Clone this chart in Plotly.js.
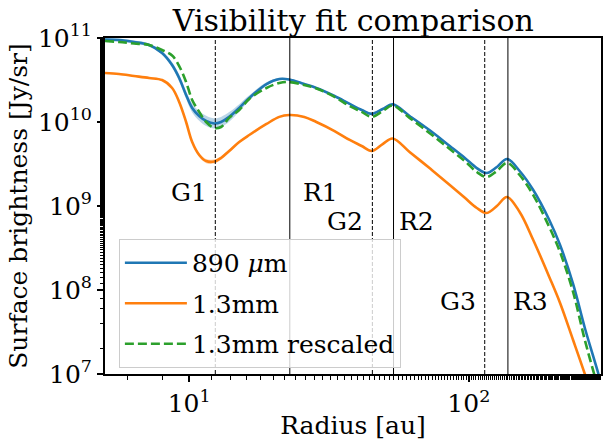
<!DOCTYPE html>
<html><head><meta charset="utf-8">
<script src="https://cdn.plot.ly/plotly-3.0.1.min.js"></script>
<style>html,body{margin:0;padding:0;background:#fff}</style>
</head><body><div id="chart" style="width:603px;height:440px"></div>
<script>
// Radius grid [au]
const radius = [5.00, 5.61, 6.35, 7.19, 8.00, 8.69, 9.21, 9.75, 10.25, 10.86, 11.5, 12.3, 13.0, 13.9, 15.1, 16.4, 18.9, 21.0, 22.8, 25.8, 28.5, 33.1, 37.5, 41.4, 44.9, 49.2, 53.4, 61.4, 73.1, 85.5, 96.8, 106.8, 116, 126, 137, 152, 170, 194, 212, 236, 260, 288, 307];
// 890 micron profile [Jy/sr]
const sb890 = [9.60e10, 9.47e10, 8.96e10, 8.26e10, 6.63e10, 4.77e10, 3.34e10, 2.10e10, 1.47e10, 1.18e10, 1.03e10, 9.60e9, 1.00e10, 1.15e10, 1.47e10, 1.93e10, 2.83e10, 3.25e10, 3.21e10, 2.83e10, 2.54e10, 2.04e10, 1.64e10, 1.39e10, 1.25e10, 1.43e10, 1.62e10, 1.18e10, 7.81e9, 5.18e9, 3.73e9, 2.83e9, 2.47e9, 2.91e9, 3.63e9, 2.61e9, 1.55e9, 6.81e8, 3.43e8, 1.18e8, 3.53e7, 1.12e7, 5.18e6];
const sb890Err = [0.04, 0.04, 0.04, 0.04, 0.05, 0.08, 0.10, 0.11, 0.13, 0.14, 0.15, 0.15, 0.15, 0.14, 0.11, 0.08, 0.05, 0.03, 0.03, 0.03, 0.03, 0.03, 0.03, 0.03, 0.03, 0.03, 0.03, 0.03, 0.03, 0.03, 0.03, 0.03, 0.03, 0.03, 0.03, 0.03, 0.03, 0.03, 0.03, 0.03, 0.03, 0.03, 0.03];
// 1.3 mm profile [Jy/sr]
const sb13 = [3.83e10, 3.73e10, 3.53e10, 3.34e10, 3.16e10, 2.54e10, 1.73e10, 1.00e10, 5.78e9, 4.05e9, 3.43e9, 3.39e9, 3.73e9, 4.52e9, 5.78e9, 7.00e9, 9.47e9, 1.15e10, 1.21e10, 1.15e10, 1.00e10, 7.81e9, 6.11e9, 5.18e9, 4.52e9, 5.47e9, 6.37e9, 4.40e9, 2.75e9, 1.78e9, 1.25e9, 9.47e8, 8.26e8, 1.00e9, 1.28e9, 8.48e8, 3.94e8, 1.43e8, 7.00e7, 2.54e7, 1.00e7, 3.53e6, 1.64e6];
const sb13Err = [0.02, 0.02, 0.02, 0.02, 0.02, 0.02, 0.02, 0.03, 0.04, 0.05, 0.06, 0.06, 0.05, 0.04, 0.03, 0.02, 0.02, 0.02, 0.02, 0.02, 0.02, 0.02, 0.02, 0.02, 0.02, 0.02, 0.02, 0.02, 0.02, 0.02, 0.02, 0.02, 0.02, 0.02, 0.02, 0.02, 0.02, 0.02, 0.02, 0.02, 0.02, 0.02, 0.02];
// 1.3 mm rescaled profile [Jy/sr]
const sb13Rescaled = [9.21e10, 8.96e10, 8.60e10, 8.26e10, 7.20e10, 6.19e10, 4.64e10, 2.99e10, 1.83e10, 1.32e10, 1.00e10, 8.48e9, 8.72e9, 1.12e10, 1.39e10, 1.88e10, 2.54e10, 2.91e10, 2.99e10, 2.75e10, 2.51e10, 1.99e10, 1.55e10, 1.32e10, 1.15e10, 1.35e10, 1.57e10, 1.12e10, 7.20e9, 4.77e9, 3.43e9, 2.54e9, 2.21e9, 2.61e9, 3.25e9, 2.34e9, 1.35e9, 5.62e8, 2.83e8, 9.47e7, 2.54e7, 7.40e6, 3.53e6];

const seriesNames = ['890 <i>μ</i>m', '1.3mm', '1.3mm rescaled'];
const gapRadii = [12.4, 45.2, 114];
const ringRadii = [22.9, 53.8, 138];
const gapLabels = ['G1', 'G2', 'G3'];
const ringLabels = ['R1', 'R2', 'R3'];
const gapLabelX = [11.8, 42.4, 107.6];
const ringLabelX = [25.2, 55.2, 141.5];
const labelY = [1.44e9, 6.5e8, 7.26e7];
const xTickVals = [10, 100];
const xTickText = ['10<sup>1</sup>', '10<sup>2</sup>'];
const yTickVals = [1e7, 1e8, 1e9, 1e10, 1e11];
const yTickText = ['10<sup>7</sup>', '10<sup>8</sup>', '10<sup>9</sup>', '10<sup>10</sup>', '10<sup>11</sup>'];
const xRange = [5, 297];
const yRange = [1e7, 1e11];

const FONT = 'DejaVu Serif, serif';
const BLUE = '#1f77b4', ORANGE = '#ff7f0e', GREEN = '#2ca02c';

function bandTraces(vals, errs, fillColor) {
  const hi = vals.map((v, i) => v * (1 + errs[i]));
  const lo = vals.map((v, i) => v / (1 + errs[i]));
  return [
    {x: radius, y: lo, type: 'scatter', mode: 'lines', line: {width: 0, shape: 'spline'}, showlegend: false, hoverinfo: 'skip'},
    {x: radius, y: hi, type: 'scatter', mode: 'lines', line: {width: 0, shape: 'spline'}, fill: 'tonexty', fillcolor: fillColor, showlegend: false, hoverinfo: 'skip'}
  ];
}

const traces = [
  ...bandTraces(sb890, sb890Err, 'rgba(31,119,180,0.3)'),
  {x: radius, y: sb890, type: 'scatter', mode: 'lines', name: seriesNames[0], legendgroup: 'a',
   line: {color: BLUE, width: 2.6, shape: 'spline'}},
  ...bandTraces(sb13, sb13Err, 'rgba(255,127,14,0.3)'),
  {x: radius, y: sb13, type: 'scatter', mode: 'lines', name: seriesNames[1], legendgroup: 'b',
   line: {color: ORANGE, width: 2.6, shape: 'spline'}},
  {x: radius, y: sb13Rescaled, type: 'scatter', mode: 'lines', name: seriesNames[2], legendgroup: 'c',
   line: {color: GREEN, width: 2.6, dash: '9px,4px', shape: 'spline'}}
];

const shapes = [];
gapRadii.forEach(r => shapes.push({type: 'line', xref: 'x', yref: 'paper', x0: r, x1: r, y0: 0, y1: 1,
  line: {color: 'black', width: 1, dash: '4px,2px'}, layer: 'above'}));
ringRadii.forEach(r => shapes.push({type: 'line', xref: 'x', yref: 'paper', x0: r, x1: r, y0: 0, y1: 1,
  line: {color: 'black', width: 1}, layer: 'above'}));

const annotations = [];
gapLabels.forEach((t, i) => annotations.push({text: t, x: Math.log10(gapLabelX[i]), y: Math.log10(labelY[i]),
  xref: 'x', yref: 'y', xanchor: 'right', yanchor: 'middle', showarrow: false, font: {family: FONT, size: 25, color: 'black'}}));
ringLabels.forEach((t, i) => annotations.push({text: t, x: Math.log10(ringLabelX[i]), y: Math.log10(labelY[i]),
  xref: 'x', yref: 'y', xanchor: 'left', yanchor: 'middle', showarrow: false, font: {family: FONT, size: 25, color: 'black'}}));

const axisCommon = {
  type: 'log', showgrid: false, zeroline: false, showline: true, linecolor: 'black', linewidth: 2, mirror: true,
  ticks: 'outside', ticklen: 6, tickwidth: 1.5, tickcolor: 'black',
  tickfont: {family: FONT, size: 25, color: 'black'},
  minor: {ticks: 'outside', ticklen: 3.5, tickwidth: 1, tickcolor: 'black', showgrid: false}
};

const layout = {
  width: 603, height: 440,
  margin: {l: 105, r: 2, t: 38, b: 66},
  paper_bgcolor: 'white', plot_bgcolor: 'white',
  font: {family: FONT, size: 25, color: 'black'},
  title: {text: 'Visibility fit comparison', font: {family: FONT, size: 30, color: 'black'},
          x: 0.586, xanchor: 'center', y: 0.953, yanchor: 'middle'},
  xaxis: Object.assign({}, axisCommon, {
    range: xRange.map(Math.log10), tickvals: xTickVals, ticktext: xTickText,
    title: {text: 'Radius [au]', font: {family: FONT, size: 25, color: 'black'}, standoff: 3}
  }),
  yaxis: Object.assign({}, axisCommon, {
    range: yRange.map(Math.log10), tickvals: yTickVals, ticktext: yTickText,
    title: {text: 'Surface brightness [Jy/sr]', font: {family: FONT, size: 25, color: 'black'}, standoff: 3}
  }),
  showlegend: true,
  legend: {x: 0.028, y: 0.402, xanchor: 'left', yanchor: 'top', bgcolor: 'rgba(255,255,255,0.8)',
           bordercolor: '#cccccc', borderwidth: 1, font: {family: FONT, size: 25, color: 'black'},
           traceorder: 'grouped', tracegroupgap: 5, itemwidth: 62},
  shapes: shapes,
  annotations: annotations
};

Plotly.newPlot('chart', traces, layout, {displayModeBar: false, staticPlot: true});
</script>
</body></html>
